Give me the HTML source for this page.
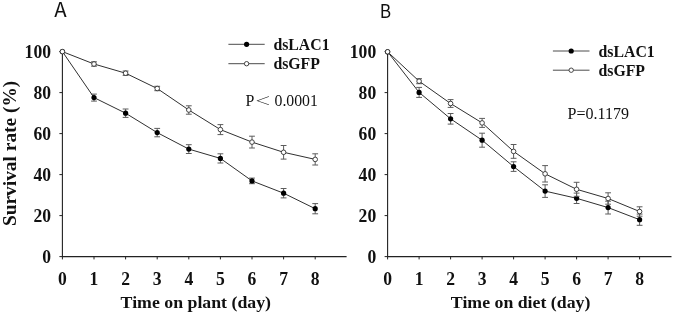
<!DOCTYPE html>
<html lang="en">
<head>
<meta charset="utf-8">
<title>Survival rate</title>
<style>
html,body{margin:0;padding:0;background:#fff;}
body{width:675px;height:315px;overflow:hidden;}
svg{display:block;will-change:transform;transform:translateZ(0);}
text{font-family:"Liberation Serif","Noto Serif CJK SC",serif;fill:#111;}
.b{font-weight:bold;}
.sans{font-family:"Noto Sans CJK SC","Liberation Sans",sans-serif;font-weight:400;}
</style>
</head>
<body>
<svg width="675" height="315" viewBox="0 0 675 315">
<rect x="0" y="0" width="675" height="315" fill="#fff"/>
<g>
<path d="M62.4 51.6V256.6H346.6" fill="none" stroke="#222" stroke-width="1.1"/>
<path d="M62.4 256.6v2.8M94.0 256.6v2.8M125.6 256.6v2.8M157.2 256.6v2.8M188.8 256.6v2.8M220.4 256.6v2.8M252.0 256.6v2.8M283.6 256.6v2.8M315.2 256.6v2.8M62.4 256.6h-3M62.4 215.6h-3M62.4 174.6h-3M62.4 133.6h-3M62.4 92.6h-3M62.4 51.6h-3" fill="none" stroke="#222" stroke-width="1"/>
<text class="b" transform="translate(62.4 284.6) scale(1 1.09)" font-size="17.6" text-anchor="middle">0</text>
<text class="b" transform="translate(94.0 284.6) scale(1 1.09)" font-size="17.6" text-anchor="middle">1</text>
<text class="b" transform="translate(125.6 284.6) scale(1 1.09)" font-size="17.6" text-anchor="middle">2</text>
<text class="b" transform="translate(157.2 284.6) scale(1 1.09)" font-size="17.6" text-anchor="middle">3</text>
<text class="b" transform="translate(188.8 284.6) scale(1 1.09)" font-size="17.6" text-anchor="middle">4</text>
<text class="b" transform="translate(220.4 284.6) scale(1 1.09)" font-size="17.6" text-anchor="middle">5</text>
<text class="b" transform="translate(252.0 284.6) scale(1 1.09)" font-size="17.6" text-anchor="middle">6</text>
<text class="b" transform="translate(283.6 284.6) scale(1 1.09)" font-size="17.6" text-anchor="middle">7</text>
<text class="b" transform="translate(315.2 284.6) scale(1 1.09)" font-size="17.6" text-anchor="middle">8</text>
<text class="b" transform="translate(51.0 262.9) scale(1 1.09)" font-size="17.6" text-anchor="end">0</text>
<text class="b" transform="translate(51.0 221.9) scale(1 1.09)" font-size="17.6" text-anchor="end">20</text>
<text class="b" transform="translate(51.0 180.9) scale(1 1.09)" font-size="17.6" text-anchor="end">40</text>
<text class="b" transform="translate(51.0 139.9) scale(1 1.09)" font-size="17.6" text-anchor="end">60</text>
<text class="b" transform="translate(51.0 98.9) scale(1 1.09)" font-size="17.6" text-anchor="end">80</text>
<text class="b" transform="translate(51.0 57.9) scale(1 1.09)" font-size="17.6" text-anchor="end">100</text>
<text class="b" transform="translate(195.8 308.3) scale(1 0.98)" font-size="17.8" text-anchor="middle">Time on plant (day)</text>
<text class="b" transform="translate(16.3 153.4) rotate(-90) scale(1.02 1)" font-size="19" text-anchor="middle">Survival rate (%)</text>
<path d="M94.0 94.1V101.1M91.1 94.1H96.9M91.1 101.1H96.9" fill="none" stroke="#5c5c5c" stroke-width="1"/>
<path d="M125.6 109.0V117.4M122.7 109.0H128.5M122.7 117.4H128.5" fill="none" stroke="#5c5c5c" stroke-width="1"/>
<path d="M157.2 128.4V136.8M154.3 128.4H160.1M154.3 136.8H160.1" fill="none" stroke="#5c5c5c" stroke-width="1"/>
<path d="M188.8 144.7V153.5M185.9 144.7H191.7M185.9 153.5H191.7" fill="none" stroke="#5c5c5c" stroke-width="1"/>
<path d="M220.4 153.8V163.0M217.5 153.8H223.3M217.5 163.0H223.3" fill="none" stroke="#5c5c5c" stroke-width="1"/>
<path d="M252.0 178.1V183.7M249.1 178.1H254.9M249.1 183.7H254.9" fill="none" stroke="#5c5c5c" stroke-width="1"/>
<path d="M283.6 188.5V197.9M280.7 188.5H286.5M280.7 197.9H286.5" fill="none" stroke="#5c5c5c" stroke-width="1"/>
<path d="M315.2 203.6V213.8M312.3 203.6H318.1M312.3 213.8H318.1" fill="none" stroke="#5c5c5c" stroke-width="1"/>
<polyline points="62.4,51.6 94.0,97.6 125.6,113.2 157.2,132.6 188.8,149.1 220.4,158.4 252.0,180.9 283.6,193.2 315.2,208.7" fill="none" stroke="#303030" stroke-width="1"/>
<circle cx="62.4" cy="51.6" r="2.6" fill="#000"/>
<circle cx="94.0" cy="97.6" r="2.6" fill="#000"/>
<circle cx="125.6" cy="113.2" r="2.6" fill="#000"/>
<circle cx="157.2" cy="132.6" r="2.6" fill="#000"/>
<circle cx="188.8" cy="149.1" r="2.6" fill="#000"/>
<circle cx="220.4" cy="158.4" r="2.6" fill="#000"/>
<circle cx="252.0" cy="180.9" r="2.6" fill="#000"/>
<circle cx="283.6" cy="193.2" r="2.6" fill="#000"/>
<circle cx="315.2" cy="208.7" r="2.6" fill="#000"/>
<path d="M94.0 61.8V66.2M91.1 61.8H96.9M91.1 66.2H96.9" fill="none" stroke="#5c5c5c" stroke-width="1"/>
<path d="M125.6 71.0V75.4M122.7 71.0H128.5M122.7 75.4H128.5" fill="none" stroke="#5c5c5c" stroke-width="1"/>
<path d="M157.2 86.3V90.7M154.3 86.3H160.1M154.3 90.7H160.1" fill="none" stroke="#5c5c5c" stroke-width="1"/>
<path d="M188.8 105.8V114.2M185.9 105.8H191.7M185.9 114.2H191.7" fill="none" stroke="#5c5c5c" stroke-width="1"/>
<path d="M220.4 124.6V134.6M217.5 124.6H223.3M217.5 134.6H223.3" fill="none" stroke="#5c5c5c" stroke-width="1"/>
<path d="M252.0 136.2V148.0M249.1 136.2H254.9M249.1 148.0H254.9" fill="none" stroke="#5c5c5c" stroke-width="1"/>
<path d="M283.6 145.5V159.1M280.7 145.5H286.5M280.7 159.1H286.5" fill="none" stroke="#5c5c5c" stroke-width="1"/>
<path d="M315.2 153.8V165.0M312.3 153.8H318.1M312.3 165.0H318.1" fill="none" stroke="#5c5c5c" stroke-width="1"/>
<polyline points="62.4,51.6 94.0,64.0 125.6,73.2 157.2,88.5 188.8,110.0 220.4,129.6 252.0,142.1 283.6,152.3 315.2,159.4" fill="none" stroke="#303030" stroke-width="1"/>
<circle cx="62.4" cy="51.6" r="2.3" fill="#fff" stroke="#303030" stroke-width="0.9"/>
<circle cx="94.0" cy="64.0" r="2.3" fill="#fff" stroke="#303030" stroke-width="0.9"/>
<circle cx="125.6" cy="73.2" r="2.3" fill="#fff" stroke="#303030" stroke-width="0.9"/>
<circle cx="157.2" cy="88.5" r="2.3" fill="#fff" stroke="#303030" stroke-width="0.9"/>
<circle cx="188.8" cy="110.0" r="2.3" fill="#fff" stroke="#303030" stroke-width="0.9"/>
<circle cx="220.4" cy="129.6" r="2.3" fill="#fff" stroke="#303030" stroke-width="0.9"/>
<circle cx="252.0" cy="142.1" r="2.3" fill="#fff" stroke="#303030" stroke-width="0.9"/>
<circle cx="283.6" cy="152.3" r="2.3" fill="#fff" stroke="#303030" stroke-width="0.9"/>
<circle cx="315.2" cy="159.4" r="2.3" fill="#fff" stroke="#303030" stroke-width="0.9"/>
</g>
<g>
<path d="M387.6 51.6V256.6H671.5" fill="none" stroke="#222" stroke-width="1.1"/>
<path d="M387.6 256.6v2.8M419.1 256.6v2.8M450.6 256.6v2.8M482.1 256.6v2.8M513.6 256.6v2.8M545.1 256.6v2.8M576.6 256.6v2.8M608.1 256.6v2.8M639.6 256.6v2.8M387.6 256.6h-3M387.6 215.6h-3M387.6 174.6h-3M387.6 133.6h-3M387.6 92.6h-3M387.6 51.6h-3" fill="none" stroke="#222" stroke-width="1"/>
<text class="b" transform="translate(387.6 284.6) scale(1 1.09)" font-size="17.6" text-anchor="middle">0</text>
<text class="b" transform="translate(419.1 284.6) scale(1 1.09)" font-size="17.6" text-anchor="middle">1</text>
<text class="b" transform="translate(450.6 284.6) scale(1 1.09)" font-size="17.6" text-anchor="middle">2</text>
<text class="b" transform="translate(482.1 284.6) scale(1 1.09)" font-size="17.6" text-anchor="middle">3</text>
<text class="b" transform="translate(513.6 284.6) scale(1 1.09)" font-size="17.6" text-anchor="middle">4</text>
<text class="b" transform="translate(545.1 284.6) scale(1 1.09)" font-size="17.6" text-anchor="middle">5</text>
<text class="b" transform="translate(576.6 284.6) scale(1 1.09)" font-size="17.6" text-anchor="middle">6</text>
<text class="b" transform="translate(608.1 284.6) scale(1 1.09)" font-size="17.6" text-anchor="middle">7</text>
<text class="b" transform="translate(639.6 284.6) scale(1 1.09)" font-size="17.6" text-anchor="middle">8</text>
<text class="b" transform="translate(376.2 262.9) scale(1 1.09)" font-size="17.6" text-anchor="end">0</text>
<text class="b" transform="translate(376.2 221.9) scale(1 1.09)" font-size="17.6" text-anchor="end">20</text>
<text class="b" transform="translate(376.2 180.9) scale(1 1.09)" font-size="17.6" text-anchor="end">40</text>
<text class="b" transform="translate(376.2 139.9) scale(1 1.09)" font-size="17.6" text-anchor="end">60</text>
<text class="b" transform="translate(376.2 98.9) scale(1 1.09)" font-size="17.6" text-anchor="end">80</text>
<text class="b" transform="translate(376.2 57.9) scale(1 1.09)" font-size="17.6" text-anchor="end">100</text>
<text class="b" transform="translate(520.6 308.3) scale(1 0.98)" font-size="17.8" text-anchor="middle">Time on diet (day)</text>
<path d="M419.1 87.4V97.4M416.2 87.4H422.0M416.2 97.4H422.0" fill="none" stroke="#5c5c5c" stroke-width="1"/>
<path d="M450.6 113.5V124.1M447.7 113.5H453.5M447.7 124.1H453.5" fill="none" stroke="#5c5c5c" stroke-width="1"/>
<path d="M482.1 133.2V147.2M479.2 133.2H485.0M479.2 147.2H485.0" fill="none" stroke="#5c5c5c" stroke-width="1"/>
<path d="M513.6 161.8V171.4M510.7 161.8H516.5M510.7 171.4H516.5" fill="none" stroke="#5c5c5c" stroke-width="1"/>
<path d="M545.1 184.8V197.4M542.2 184.8H548.0M542.2 197.4H548.0" fill="none" stroke="#5c5c5c" stroke-width="1"/>
<path d="M576.6 193.1V203.5M573.7 193.1H579.5M573.7 203.5H579.5" fill="none" stroke="#5c5c5c" stroke-width="1"/>
<path d="M608.1 201.2V214.0M605.2 201.2H611.0M605.2 214.0H611.0" fill="none" stroke="#5c5c5c" stroke-width="1"/>
<path d="M639.6 214.1V225.3M636.7 214.1H642.5M636.7 225.3H642.5" fill="none" stroke="#5c5c5c" stroke-width="1"/>
<polyline points="387.6,51.8 419.1,92.4 450.6,118.8 482.1,140.2 513.6,166.6 545.1,191.1 576.6,198.3 608.1,207.6 639.6,219.7" fill="none" stroke="#303030" stroke-width="1"/>
<circle cx="387.6" cy="51.8" r="2.6" fill="#000"/>
<circle cx="419.1" cy="92.4" r="2.6" fill="#000"/>
<circle cx="450.6" cy="118.8" r="2.6" fill="#000"/>
<circle cx="482.1" cy="140.2" r="2.6" fill="#000"/>
<circle cx="513.6" cy="166.6" r="2.6" fill="#000"/>
<circle cx="545.1" cy="191.1" r="2.6" fill="#000"/>
<circle cx="576.6" cy="198.3" r="2.6" fill="#000"/>
<circle cx="608.1" cy="207.6" r="2.6" fill="#000"/>
<circle cx="639.6" cy="219.7" r="2.6" fill="#000"/>
<path d="M419.1 78.7V83.7M416.2 78.7H422.0M416.2 83.7H422.0" fill="none" stroke="#5c5c5c" stroke-width="1"/>
<path d="M450.6 99.6V107.4M447.7 99.6H453.5M447.7 107.4H453.5" fill="none" stroke="#5c5c5c" stroke-width="1"/>
<path d="M482.1 118.4V127.4M479.2 118.4H485.0M479.2 127.4H485.0" fill="none" stroke="#5c5c5c" stroke-width="1"/>
<path d="M513.6 144.5V158.3M510.7 144.5H516.5M510.7 158.3H516.5" fill="none" stroke="#5c5c5c" stroke-width="1"/>
<path d="M545.1 165.6V182.0M542.2 165.6H548.0M542.2 182.0H548.0" fill="none" stroke="#5c5c5c" stroke-width="1"/>
<path d="M576.6 182.3V196.3M573.7 182.3H579.5M573.7 196.3H579.5" fill="none" stroke="#5c5c5c" stroke-width="1"/>
<path d="M608.1 192.8V204.2M605.2 192.8H611.0M605.2 204.2H611.0" fill="none" stroke="#5c5c5c" stroke-width="1"/>
<path d="M639.6 206.8V216.2M636.7 206.8H642.5M636.7 216.2H642.5" fill="none" stroke="#5c5c5c" stroke-width="1"/>
<polyline points="387.6,51.8 419.1,81.2 450.6,103.5 482.1,122.9 513.6,151.4 545.1,173.8 576.6,189.3 608.1,198.5 639.6,211.5" fill="none" stroke="#303030" stroke-width="1"/>
<circle cx="387.6" cy="51.8" r="2.3" fill="#fff" stroke="#303030" stroke-width="0.9"/>
<circle cx="419.1" cy="81.2" r="2.3" fill="#fff" stroke="#303030" stroke-width="0.9"/>
<circle cx="450.6" cy="103.5" r="2.3" fill="#fff" stroke="#303030" stroke-width="0.9"/>
<circle cx="482.1" cy="122.9" r="2.3" fill="#fff" stroke="#303030" stroke-width="0.9"/>
<circle cx="513.6" cy="151.4" r="2.3" fill="#fff" stroke="#303030" stroke-width="0.9"/>
<circle cx="545.1" cy="173.8" r="2.3" fill="#fff" stroke="#303030" stroke-width="0.9"/>
<circle cx="576.6" cy="189.3" r="2.3" fill="#fff" stroke="#303030" stroke-width="0.9"/>
<circle cx="608.1" cy="198.5" r="2.3" fill="#fff" stroke="#303030" stroke-width="0.9"/>
<circle cx="639.6" cy="211.5" r="2.3" fill="#fff" stroke="#303030" stroke-width="0.9"/>
</g>
<path d="M228.4 44.3H264.7M228.4 63.7H264.7" fill="none" stroke="#4c4c4c" stroke-width="1"/>
<circle cx="246.6" cy="44.3" r="2.6" fill="#000"/>
<circle cx="246.6" cy="63.7" r="2.2" fill="#fff" stroke="#333" stroke-width="0.9"/>
<text class="b" x="273.4" y="49.9" font-size="15.8">dsLAC1</text>
<text class="b" x="273.4" y="69.2" font-size="15.8">dsGFP</text>
<path d="M552.9 51.0H589.5M552.9 70.2H589.5" fill="none" stroke="#4c4c4c" stroke-width="1"/>
<circle cx="571.2" cy="51.0" r="2.6" fill="#000"/>
<circle cx="571.2" cy="70.2" r="2.2" fill="#fff" stroke="#333" stroke-width="0.9"/>
<text class="b" x="598.5" y="56.8" font-size="15.8">dsLAC1</text>
<text class="b" x="598.5" y="75.9" font-size="15.8">dsGFP</text>
<text transform="translate(245.6 105.6) scale(1 1.1)" font-size="15.9">P</text>
<text transform="translate(262.8 104.7) scale(1.04 0.72)" font-size="15.9" text-anchor="middle">＜</text>
<text transform="translate(274.5 105.6) scale(1 1.1)" font-size="15.8">0.0001</text>
<text transform="translate(567.5 119.1) scale(1 1.1)" font-size="16.05">P=0.1179</text>
<text class="sans" x="54.3" y="16.8" font-size="20.4">A</text>
<text class="sans" transform="translate(379.7 17.8) scale(0.92 1)" font-size="18.8">B</text>
</svg>
</body>
</html>
